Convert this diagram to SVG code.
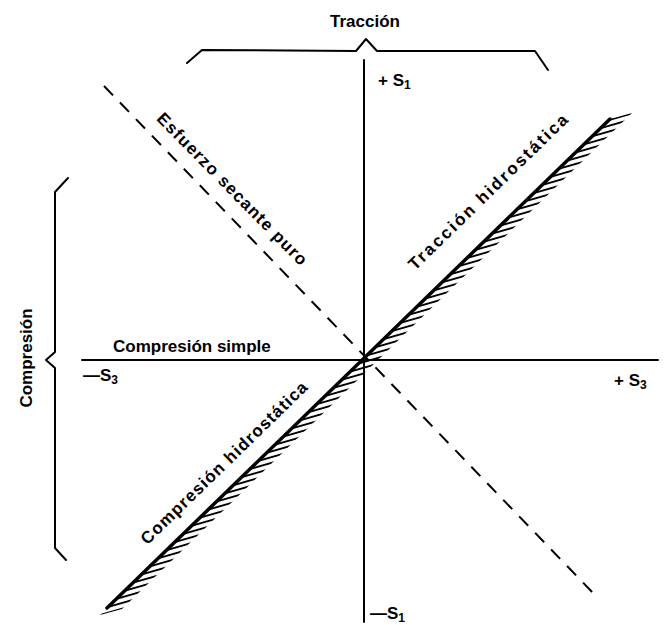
<svg xmlns="http://www.w3.org/2000/svg" width="664" height="625" viewBox="0 0 664 625">
<style>
.ln{stroke:#000;fill:none;stroke-linecap:round;stroke-linejoin:round}
.ax{stroke-width:2}
.br{stroke-width:2}
.ds{stroke-width:2;stroke-dasharray:13 10;stroke-linecap:butt}
.hy{stroke-width:3.5}
text{font-family:"Liberation Sans",Arial,sans-serif;font-weight:bold;font-size:17px;fill:#000}
.sub{font-size:12px}
</style>
<defs>
<pattern id="hatch" patternUnits="userSpaceOnUse" width="30" height="5.5" patternTransform="rotate(-16)">
<line x1="0" y1="2.75" x2="30" y2="2.75" stroke="#000" stroke-width="1.9"/>
</pattern>
</defs>
<rect width="664" height="625" fill="#fff"/>
<g id="connectors">
<line id="axis-s1" class="ln ax" x1="364" y1="60" x2="364" y2="622"/>
<line id="axis-s3" class="ln ax" x1="82" y1="360" x2="658" y2="360"/>
<line id="secante" class="ln ds" x1="104" y1="86" x2="596" y2="596"/>
<polygon id="hatching" points="100,615 610,119 632,113 122,609" fill="url(#hatch)"/>
<line id="hidrostatica" class="ln hy" x1="107" y1="608" x2="610" y2="119"/>
</g>
<g id="brace-traccion">
<polyline class="ln br" points="187,63 202,50 356,51 366,39 377,51 535,51 548,70"/>
<text x="365" y="27" text-anchor="middle">Tracción</text>
</g>
<g id="brace-compresion">
<polyline class="ln br" points="68,178 55,192 55,352 46,360 55,368 55,548 66,560"/>
<text transform="translate(32,358) rotate(-90)" text-anchor="middle">Compresión</text>
</g>
<g id="label-s1-pos"><text x="378" y="86">+ S<tspan class="sub" dy="3">1</tspan></text></g>
<g id="label-s1-neg"><text x="370" y="619">—S<tspan class="sub" dy="3">1</tspan></text></g>
<g id="label-s3-neg"><text x="83" y="381">—S<tspan class="sub" dy="3">3</tspan></text></g>
<g id="label-s3-pos"><text x="614" y="386">+ S<tspan class="sub" dy="3">3</tspan></text></g>
<g id="label-compresion-simple"><text x="113" y="352">Compresión simple</text></g>
<g id="label-secante"><text transform="translate(228,193) rotate(45.5)" text-anchor="middle" textLength="206" lengthAdjust="spacing">Esfuerzo secante puro</text></g>
<g id="label-traccion-hidro"><text transform="translate(492,196) rotate(-44.2)" text-anchor="middle" textLength="215" lengthAdjust="spacing">Tracción hidrostática</text></g>
<g id="label-compresion-hidro"><text transform="translate(228,467) rotate(-44.2)" text-anchor="middle" textLength="225" lengthAdjust="spacing">Compresión hidrostática</text></g>
</svg>
